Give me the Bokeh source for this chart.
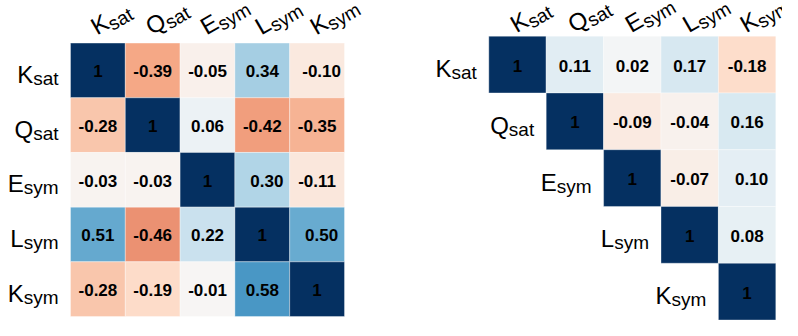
import numpy as np
from bokeh.plotting import figure
from bokeh.layouts import row
from bokeh.models import ColumnDataSource, LinearColorMapper, Range1d
from bokeh.transform import transform
from bokeh.embed import file_html
from bokeh.resources import INLINE
from bokeh.core.properties import value

# ---------------- data ----------------
param_main = ["K", "Q", "E", "L", "K"]
param_sub = ["sat", "sat", "sym", "sym", "sym"]

left_values = [
    [1, -0.39, -0.05, 0.34, -0.10],
    [-0.28, 1, 0.06, -0.42, -0.35],
    [-0.03, -0.03, 1, 0.30, -0.11],
    [0.51, -0.46, 0.22, 1, 0.50],
    [-0.28, -0.19, -0.01, 0.58, 1],
]

right_values = [
    [1, 0.11, 0.02, 0.17, -0.18],
    [None, 1, -0.09, -0.04, 0.16],
    [None, None, 1, -0.07, 0.10],
    [None, None, None, 1, 0.08],
    [None, None, None, None, 1],
]

# ---------------- style ----------------
RDBU = ["#67001f", "#b2182b", "#d6604d", "#f4a582", "#fddbc7", "#f7f7f7",
        "#d1e5f0", "#92c5de", "#4393c3", "#2166ac", "#053061"]


def interp_palette(anchors, n=256):
    rgb = np.array([[int(c[i:i + 2], 16) for i in (1, 3, 5)] for c in anchors], float)
    xs = np.linspace(0, 1, len(anchors))
    t = np.linspace(0, 1, n)
    out = []
    for tt in t:
        r = np.interp(tt, xs, rgb[:, 0])
        g = np.interp(tt, xs, rgb[:, 1])
        b = np.interp(tt, xs, rgb[:, 2])
        out.append("#%02x%02x%02x" % (int(round(r)), int(round(g)), int(round(b))))
    return out


PALETTE = interp_palette(RDBU)
FONT = "Liberation Sans"
MAIN_SIZE = 24
SUB_SIZE = 19
DESCENT = 0.212
ADV = {"K": 0.667, "Q": 0.778, "E": 0.667, "L": 0.556,
       "s": 0.5, "a": 0.556, "t": 0.278, "y": 0.5, "m": 0.833}
ROT = np.deg2rad(30)


def width_px(s, size):
    return sum(ADV[c] for c in s) * size


def fmt(v):
    return "1" if v == 1 else f"{v:.2f}"


def make_panel(values, width, height, xr, yr, cx, cy, triangle, ax0, ay0):
    # rows are drawn top-to-bottom: row r sits at y = -r ; cx, cy = pixels per cell
    p = figure(width=width, height=height, x_range=Range1d(*xr), y_range=Range1d(*yr),
               toolbar_location=None, output_backend="svg", x_axis_type=None,
               y_axis_type=None, min_border=0, outline_line_color=None,
               background_fill_color="white", border_fill_color="white")
    p.grid.visible = False
    mapper = LinearColorMapper(palette=PALETTE, low=-1, high=1)
    xs, ys, vs, labels, xoffs = [], [], [], [], []
    n = len(values)
    for r in range(n):
        for c in range(n):
            v = values[r][c]
            if v is None:
                continue
            xs.append(c)
            ys.append(-r)
            vs.append(v)
            lab = fmt(v)
            labels.append(lab)
            xoffs.append(4.5 if (lab.endswith("0") and "." in lab) else 0.0)
    src = ColumnDataSource(dict(x=xs, y=ys, v=vs, label=labels, xoff=xoffs))
    p.rect(x="x", y="y", width=1, height=1, source=src,
           fill_color=transform("v", mapper), line_color="white", line_alpha=0.35,
           line_width=1)
    p.text(x="x", y="y", text="label", source=src, x_offset="xoff", y_offset=1,
           text_align="center", text_baseline="middle", text_font=value(FONT),
           text_font_style="bold", text_font_size="17px", text_color="black")

    # row labels
    gap = 12
    rx, ry, mtxt, stxt, mxo, sxo = [], [], [], [], [], []
    for r in range(n):
        edge = (r if triangle else 0) - 0.5
        rx.append(edge)
        ry.append(-r)
        mtxt.append(param_main[r])
        stxt.append(param_sub[r])
        sw = width_px(param_sub[r], SUB_SIZE)
        sxo.append(-gap)
        mxo.append(-gap - sw)
    rsrc = ColumnDataSource(dict(x=rx, y=ry, m=mtxt, s=stxt, mxo=mxo, sxo=sxo))
    p.text(x="x", y="y", text="m", source=rsrc, x_offset="mxo", y_offset=4,
           text_align="right", text_baseline="alphabetic", text_font=value(FONT),
           text_font_size=f"{MAIN_SIZE}px", text_color="black")
    p.text(x="x", y="y", text="s", source=rsrc, x_offset="sxo", y_offset=8,
           text_align="right", text_baseline="alphabetic", text_font=value(FONT),
           text_font_size=f"{SUB_SIZE}px", text_color="black")

    # column labels (rotated); positions converted to data units, baseline "bottom"
    ux, uy = np.cos(ROT), np.sin(ROT)     # along-baseline direction (screen, y up)
    dx, dy = np.sin(ROT), -np.cos(ROT)    # "down" direction (screen, y up)
    drop = 4.0
    mxs, mys, sxs, sys_, cm, csb = [], [], [], [], [], []
    for c in range(n):
        mw = width_px(param_main[c], MAIN_SIZE)
        bx = ax0 + DESCENT * MAIN_SIZE * dx
        by = ay0 + DESCENT * MAIN_SIZE * dy
        mxs.append(c + bx / cx)
        mys.append(0.5 + by / cy)
        sbx = ax0 + mw * ux + drop * dx + DESCENT * SUB_SIZE * dx
        sby = ay0 + mw * uy + drop * dy + DESCENT * SUB_SIZE * dy
        sxs.append(c + sbx / cx)
        sys_.append(0.5 + sby / cy)
        cm.append(param_main[c])
        csb.append(param_sub[c])
    msrc = ColumnDataSource(dict(x=mxs, y=mys, t=cm))
    ssrc = ColumnDataSource(dict(x=sxs, y=sys_, t=csb))
    p.text(x="x", y="y", text="t", source=msrc, angle=ROT, text_align="left",
           text_baseline="bottom", text_font=value(FONT),
           text_font_size=f"{MAIN_SIZE}px", text_color="black")
    p.text(x="x", y="y", text="t", source=ssrc, angle=ROT, text_align="left",
           text_baseline="bottom", text_font=value(FONT),
           text_font_size=f"{SUB_SIZE}px", text_color="black")
    return p


# left panel: grid at fig x 70..344, y 42.7..316 (cell 54.8)
c1 = 54.8
p1 = make_panel(left_values, 392, 320,
                (-0.5 - 70 / c1, 4.5 + (392 - 344) / c1),
                (-4.5 - (320 - 316) / c1, 0.5 + 42.7 / c1), c1, c1, False, -1.0, 7.7)

# right panel: grid at fig x 96.3..383.3, y 35.7..319.5
c2x = 57.4
c2y = (319.5 - 35.7) / 5
p2 = make_panel(right_values, 390, 320,
                (-0.5 - 96.3 / c2x, 4.5 + (390 - 383.3) / c2x),
                (-4.5 - (320 - 319.5) / c2y, 0.5 + 35.7 / c2y), c2x, c2y, True, -1.0, 3.0)

layout = row(p1, p2)
open("out.html", "w").write(file_html(layout, INLINE))
